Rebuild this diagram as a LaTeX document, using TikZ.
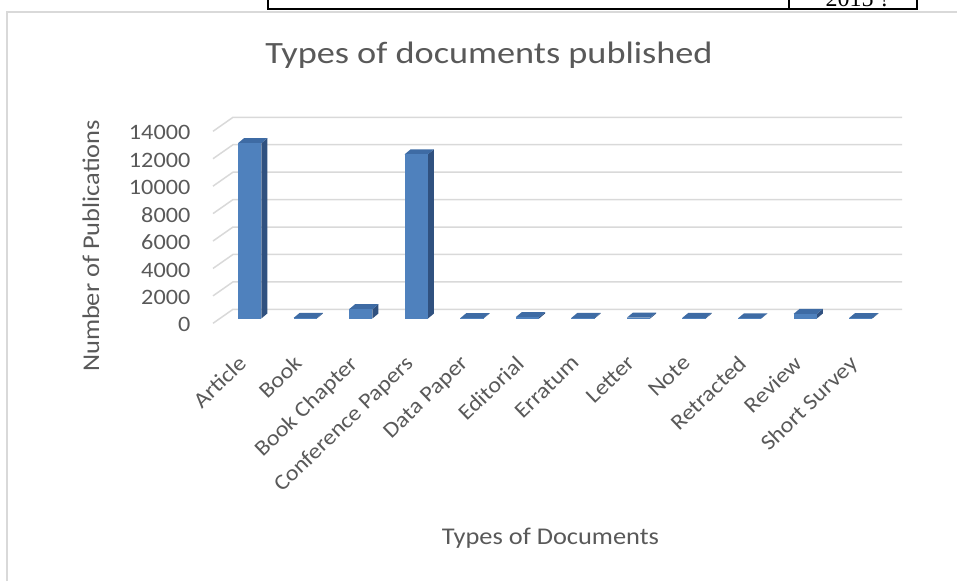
\documentclass[tikz,border=0pt]{standalone}
\usepackage{fontspec}
\setmainfont{Carlito}[FakeStretch=1.1]
\newfontfamily\titlefont{Carlito}[FakeStretch=1.17]
\newfontfamily\tablefont{Liberation Serif}
\definecolor{txtgray}{HTML}{595959}
\definecolor{gridgray}{HTML}{D9D9D9}
\definecolor{barfront}{HTML}{4F81BD}
\definecolor{barside}{HTML}{30517F}
\definecolor{bartop}{HTML}{3E6BA4}
\tikzset{
  ticklabel/.style={anchor=east, inner sep=0pt, text=txtgray, font=\fontsize{22}{26}\selectfont},
  catlabel/.style={anchor=north east, inner sep=0pt, rotate=44, text=txtgray, font=\fontsize{22}{26}\selectfont},
  gridline/.style={gridgray, line width=1.5pt},
}
\begin{document}
\begin{tikzpicture}[x=1pt,y=-1pt]
    \useasboundingbox (0,0) rectangle (957,581);
    % piece of the table above the chart
    \begin{scope}
        \clip (0,0) rectangle (957,581);
        \node[anchor=base, inner sep=0pt, font=\tablefont\fontsize{24}{28}\selectfont] (year) at (858,6) {2015 ?};
    \end{scope}
    \draw[line width=1.6pt] (268,0) -- (268,9) -- (917,9) -- (917,0);
    \draw[line width=1.6pt] (789,0) -- (789,9);
    % chart frame
    \draw[gridgray, line width=1.5pt] (7,581) -- (7,12) -- (957,12);
    % walls and ticks
    \foreach \k in {0,...,7} {
        \pgfmathsetmacro\gy{309.3-27.43*\k}
        \pgfmathtruncatemacro\lab{2000*\k}
        \draw[gridline] (213,\gy+14) -- (233,\gy) -- (902,\gy);
        \node[ticklabel] (tick\k) at (190.5,\gy+15.5) {\lab};
    }
    % bars
    \foreach \v [count=\i from 0] in {12780,40,680,11970,20,100,40,60,50,10,330,30} {
        \pgfmathsetmacro\xl{238+55.55*\i}
        \pgfmathsetmacro\xr{\xl+23.3}
        \pgfmathsetmacro\yt{318.5-0.013715*\v}
        \fill[barside] (\xr,318.5) -- (\xr+6,313.5) -- (\xr+6,\yt-5) -- (\xr,\yt) -- cycle;
        \fill[bartop] (\xl,\yt) -- (\xl+6,\yt-5) -- (\xr+6,\yt-5) -- (\xr,\yt) -- cycle;
        \fill[barfront] (\xl,318.5) rectangle (\xr,\yt);
    }
    % categories
    \foreach \name [count=\i from 0] in {Article,Book,Book Chapter,Conference Papers,Data Paper,Editorial,Erratum,Letter,Note,Retracted,Review,Short Survey} {
        \node[catlabel] (cat\i) at ({237+55.55*\i},354) {\name};
    }
    \node[anchor=base, text=txtgray, font=\titlefont\fontsize{31}{36}\selectfont] (title) at (489,63) {Types of documents published};
    \node[anchor=base, text=txtgray, font=\fontsize{24}{28}\selectfont] (xtitle) at (550.5,544.3) {Types of Documents};
    \node[rotate=90, text=txtgray, font=\fontsize{24}{28}\selectfont] (ytitle) at (91,246) {Number of Publications};
\end{tikzpicture}
\end{document}
